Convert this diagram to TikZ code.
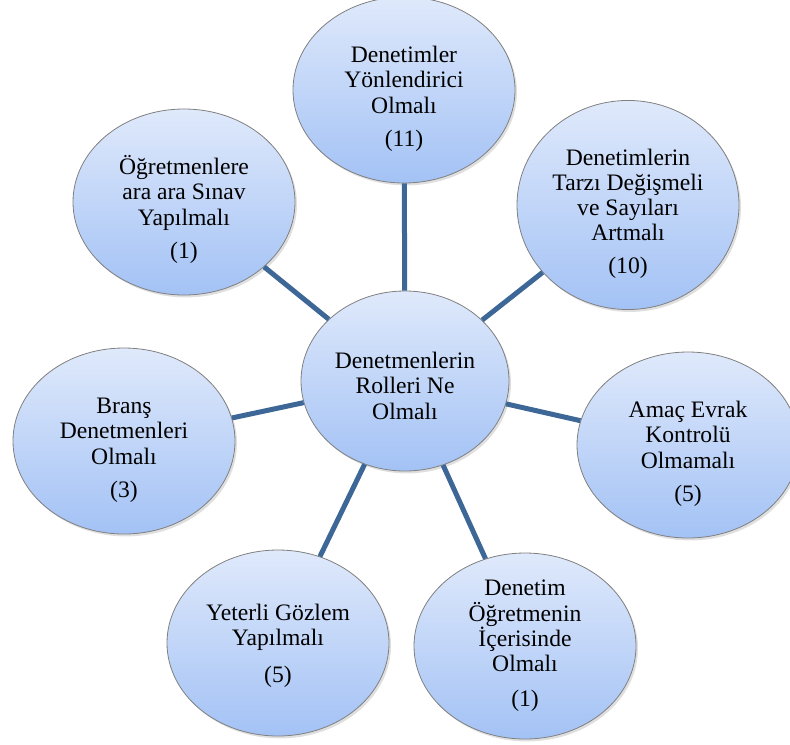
\documentclass[tikz,border=0pt]{standalone}
\usepackage{fontspec}
\setmainfont{Liberation Serif}
\usetikzlibrary{shapes.geometric,shadows}
\definecolor{bubtop}{RGB}{223,233,251}
\definecolor{bubbot}{RGB}{163,194,245}
\definecolor{spokec}{RGB}{61,103,150}
\newcommand{\lowr}[1]{\rule{0pt}{#1}}
\tikzset{bub/.style={ellipse,draw=black!50,line width=.4pt,top color=bubtop,bottom color=bubbot,
  minimum width=111pt,minimum height=93pt,inner sep=0pt,align=center,
  font=\rmfamily\fontsize{11.8}{12.6}\selectfont,
  drop shadow={opacity=.25,shadow xshift=1pt,shadow yshift=-1.2pt}},
 hub/.style={bub,minimum width=104pt,minimum height=90pt},
 wire/.style={draw=spokec,line width=2.5pt}}
\begin{document}
\begin{tikzpicture}[x=.5pt,y=-.5pt]
\useasboundingbox (0,0) rectangle (790,744);
\node[hub](c) at (405,381){\lowr{13pt}Denetmenlerin\\Rolleri Ne\\Olmalı};
\node[bub](t) at (404,90){\lowr{17pt}Denetimler\\Yönlendirici\\Olmalı\\[4pt](11)};
\node[bub](tr) at (628,205){\lowr{17pt}Denetimlerin\\Tarzı Değişmeli\\ve Sayıları\\Artmalı\\[4pt](10)};
\node[bub](r) at (688,445){\lowr{17pt}Amaç Evrak\\Kontrolü\\Olmamalı\\[4pt](5)};
\node[bub](br) at (525,646){Denetim\\Öğretmenin\\İçerisinde\\Olmalı\\[5pt](1)};
\node[bub](bl) at (278,643){\lowr{11pt}Yeterli Gözlem\\Yapılmalı\\[6pt](5)};
\node[bub](l) at (124,441){\lowr{17pt}Branş\\Denetmenleri\\Olmalı\\[4pt](3)};
\node[bub](tl) at (184,202){\lowr{17pt}Öğretmenlere\\ara ara Sınav\\Yapılmalı\\[4pt](1)};
% spokes
\foreach \n in {t,tr,r,br,bl,l,tl}{\draw[wire](c)--(\n);}
\end{tikzpicture}
\end{document}
